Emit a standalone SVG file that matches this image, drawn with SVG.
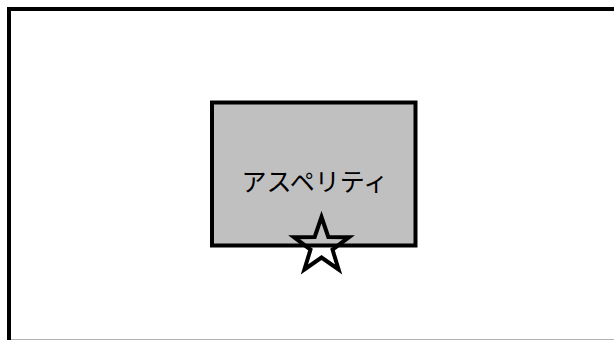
<svg xmlns="http://www.w3.org/2000/svg" width="614" height="340" viewBox="0 0 614 340">
<style>
.frame{fill:none;stroke:#000;stroke-width:4}
.box{fill:#c0c0c0;stroke:#000;stroke-width:4}
.label{font-family:"Noto Sans CJK JP","Noto Sans",sans-serif;font-size:25px;fill:#000}
.star{fill:none;stroke:#000;stroke-width:4;stroke-linejoin:miter}
</style>
<rect width="614" height="340" fill="#fff"/>
<rect class="frame" x="9" y="9" width="610" height="332.7"/>
<g id="asperity">
<rect class="box" x="212" y="102.5" width="203.5" height="143"/>
<text class="label" x="315" y="191" text-anchor="middle">アスペリティ</text>
</g>
<g id="star">
<polygon class="star" points="321.5,217 328.3,237 349,237.2 332.5,249.6 338.6,269.5 321.5,257.5 304.4,269.5 310.5,249.6 294,237.2 314.7,237"/>
</g>
</svg>
